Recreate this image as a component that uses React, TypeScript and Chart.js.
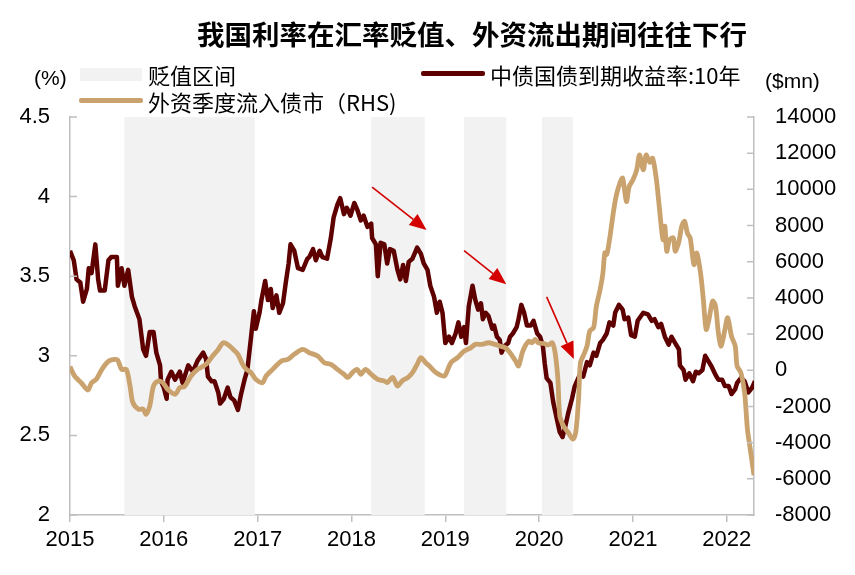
import { useEffect, useRef } from "react";
import { Chart, registerables, type Plugin } from "chart.js";

Chart.register(...registerables);

const FONT_CJK = '"Noto Sans CJK SC", "Noto Sans", sans-serif';
const FONT_NUM = '"Liberation Sans", Arial, sans-serif';

const YIELD_COLOR = "#5e0000";
const FLOW_COLOR = "#c9a26e";
const BAND_COLOR = "#f2f2f2";
const AXIS_COLOR = "#bfbfbf";
const ARROW_COLOR = "#d40000";

// axis ticks
const yearTicks = [2015, 2016, 2017, 2018, 2019, 2020, 2021, 2022];
const leftTicks = [2, 2.5, 3, 3.5, 4, 4.5];
const rightTicks = [-8000, -6000, -4000, -2000, 0, 2000, 4000, 6000, 8000, 10000, 12000, 14000];

// depreciation windows (decimal years)
const bandStarts = [2015.58, 2018.21, 2019.2, 2020.03];
const bandEnds = [2016.97, 2018.78, 2019.65, 2020.36];

// 10y CGB yield, %
const yieldDates = [
  2015.0, 2015.04, 2015.07, 2015.11, 2015.14, 2015.18, 2015.2, 2015.23, 2015.27, 2015.3,
  2015.32, 2015.37, 2015.41, 2015.44, 2015.5, 2015.51, 2015.55, 2015.58, 2015.62, 2015.66,
  2015.69, 2015.74, 2015.78, 2015.81, 2015.85, 2015.89, 2015.92, 2015.96, 2015.97, 2016.0,
  2016.03, 2016.04, 2016.08, 2016.12, 2016.17, 2016.2, 2016.26, 2016.31, 2016.36, 2016.42,
  2016.45, 2016.47, 2016.51, 2016.54, 2016.58, 2016.6, 2016.64, 2016.68, 2016.71, 2016.75,
  2016.79, 2016.82, 2016.86, 2016.89, 2016.93, 2016.96, 2016.98, 2017.02, 2017.04, 2017.08,
  2017.11, 2017.14, 2017.16, 2017.2, 2017.23, 2017.27, 2017.3, 2017.33, 2017.35, 2017.39,
  2017.43, 2017.48, 2017.53, 2017.55, 2017.59, 2017.62, 2017.66, 2017.69, 2017.74, 2017.78,
  2017.81, 2017.85, 2017.88, 2017.92, 2017.95, 2017.99, 2018.03, 2018.06, 2018.1, 2018.13,
  2018.17, 2018.21, 2018.22, 2018.26, 2018.28, 2018.31, 2018.35, 2018.38, 2018.41, 2018.45,
  2018.49, 2018.52, 2018.55, 2018.58, 2018.61, 2018.65, 2018.7, 2018.74, 2018.77, 2018.81,
  2018.84, 2018.88, 2018.91, 2018.94, 2018.97, 2019.0, 2019.04, 2019.07, 2019.11, 2019.14,
  2019.17, 2019.2, 2019.22, 2019.25, 2019.29, 2019.32, 2019.35, 2019.38, 2019.4, 2019.43,
  2019.46, 2019.5, 2019.52, 2019.55, 2019.58, 2019.6, 2019.63, 2019.67, 2019.69, 2019.72,
  2019.76, 2019.78, 2019.81, 2019.84, 2019.87, 2019.91, 2019.94, 2019.98, 2020.01, 2020.04,
  2020.06, 2020.08, 2020.12, 2020.15, 2020.19, 2020.22, 2020.25, 2020.28, 2020.31, 2020.35,
  2020.38, 2020.44, 2020.47, 2020.51, 2020.54, 2020.58, 2020.61, 2020.65, 2020.68, 2020.72,
  2020.75, 2020.79, 2020.81, 2020.85, 2020.89, 2020.91, 2020.95, 2020.98, 2021.02, 2021.05,
  2021.11, 2021.16, 2021.2, 2021.23, 2021.27, 2021.3, 2021.34, 2021.38, 2021.41, 2021.45,
  2021.49, 2021.5, 2021.54, 2021.56, 2021.6, 2021.64, 2021.67, 2021.7, 2021.74, 2021.77,
  2021.81, 2021.84, 2021.88, 2021.91, 2021.95, 2021.98, 2022.02, 2022.05, 2022.09, 2022.11,
  2022.15, 2022.19, 2022.23, 2022.27, 2022.3,
];
const yieldValues = [
  3.66, 3.6, 3.48, 3.46, 3.34, 3.42, 3.55, 3.52, 3.7, 3.48,
  3.41, 3.41, 3.6, 3.62, 3.62, 3.44, 3.55, 3.44, 3.54, 3.37,
  3.31, 3.23, 3.04, 3.0, 3.15, 3.15, 3.02, 2.94, 2.84, 2.8,
  2.73, 2.85, 2.9, 2.85, 2.9, 2.83, 2.94, 2.9, 2.97, 3.02,
  2.98, 2.87, 2.84, 2.84, 2.77, 2.7, 2.73, 2.8, 2.74, 2.72,
  2.66, 2.75, 2.85, 2.91, 3.12, 3.28, 3.17, 3.27, 3.35, 3.47,
  3.35, 3.42, 3.3, 3.38, 3.27, 3.33, 3.46, 3.58, 3.7, 3.66,
  3.55, 3.54, 3.61, 3.62, 3.67, 3.6, 3.66, 3.62, 3.61, 3.74,
  3.87, 3.95, 3.99, 3.89, 3.93, 3.88, 3.96, 3.92, 3.85, 3.88,
  3.81, 3.83, 3.74, 3.7, 3.5, 3.71, 3.7, 3.58, 3.67, 3.66,
  3.54, 3.48, 3.57, 3.47, 3.59, 3.61, 3.68, 3.64, 3.58, 3.54,
  3.44, 3.37, 3.27, 3.34, 3.27, 3.08, 3.12, 3.08, 3.14, 3.21,
  3.12, 3.18, 3.08, 3.31, 3.44, 3.35, 3.29, 3.33, 3.23, 3.27,
  3.25, 3.17, 3.19, 3.12, 3.1, 3.02, 3.06, 3.08, 3.12, 3.14,
  3.18, 3.23, 3.32, 3.27, 3.19, 3.19, 3.22, 3.14, 3.12, 3.06,
  2.95, 2.86, 2.83, 2.71, 2.6, 2.52, 2.49, 2.56, 2.64, 2.73,
  2.81, 2.89, 2.87, 2.96, 2.94, 3.02, 3.0, 3.08, 3.1, 3.14,
  3.21, 3.19, 3.27, 3.32, 3.29, 3.23, 3.24, 3.13, 3.12, 3.22,
  3.27, 3.26, 3.22, 3.23, 3.18, 3.2, 3.12, 3.07, 3.12, 3.08,
  3.04, 2.94, 2.91, 2.85, 2.89, 2.84, 2.9, 2.89, 2.91, 3.0,
  2.96, 2.93, 2.88, 2.85, 2.85, 2.81, 2.81, 2.76, 2.79, 2.83,
  2.86, 2.84, 2.77, 2.8, 2.84,
];

// quarterly foreign inflow into bonds, $mn (RHS)
const flowDates = [
  2015.0, 2015.05, 2015.12, 2015.19, 2015.23, 2015.28, 2015.34, 2015.41, 2015.48, 2015.51,
  2015.55, 2015.6, 2015.64, 2015.67, 2015.73, 2015.78, 2015.81, 2015.85, 2015.89, 2015.94,
  2015.99, 2016.04, 2016.12, 2016.17, 2016.22, 2016.29, 2016.36, 2016.45, 2016.52, 2016.58,
  2016.63, 2016.68, 2016.74, 2016.79, 2016.84, 2016.88, 2016.93, 2016.98, 2017.05, 2017.09,
  2017.16, 2017.25, 2017.32, 2017.39, 2017.48, 2017.55, 2017.64, 2017.71, 2017.78, 2017.85,
  2017.92, 2017.96, 2018.01, 2018.06, 2018.1, 2018.15, 2018.21, 2018.28, 2018.35, 2018.38,
  2018.44, 2018.49, 2018.54, 2018.6, 2018.65, 2018.7, 2018.74, 2018.79, 2018.83, 2018.88,
  2018.93, 2018.99, 2019.02, 2019.06, 2019.13, 2019.2, 2019.27, 2019.32, 2019.39, 2019.46,
  2019.53, 2019.59, 2019.64, 2019.69, 2019.75, 2019.78, 2019.82, 2019.85, 2019.89, 2019.92,
  2019.96, 2019.99, 2020.05, 2020.1, 2020.14, 2020.17, 2020.2, 2020.22, 2020.26, 2020.31,
  2020.36, 2020.39, 2020.42, 2020.44, 2020.47, 2020.51, 2020.54, 2020.58, 2020.61, 2020.65,
  2020.68, 2020.7, 2020.72, 2020.75, 2020.79, 2020.82, 2020.86, 2020.89, 2020.93, 2020.96,
  2021.0, 2021.04, 2021.07, 2021.11, 2021.14, 2021.18, 2021.21, 2021.25, 2021.28, 2021.32,
  2021.34, 2021.36, 2021.39, 2021.43, 2021.45, 2021.49, 2021.52, 2021.55, 2021.58, 2021.61,
  2021.65, 2021.68, 2021.72, 2021.75, 2021.78, 2021.81, 2021.85, 2021.88, 2021.91, 2021.94,
  2021.98, 2022.01, 2022.05, 2022.09, 2022.11, 2022.15, 2022.19, 2022.22, 2022.25, 2022.29,
];
const flowValues = [
  200, -320, -690, -1090, -690, -500, 50, 500, 600, 550,
  50, 50, -870, -1790, -2150, -2150, -2430, -1970, -870, -590,
  -690, -1050, -1330, -960, -900, -320, 50, 330, 790, 1150,
  1520, 1430, 1150, 880, 330, 50, -130, -500, -690, -320,
  50, 500, 600, 880, 1150, 970, 790, 420, 330, 50,
  -220, -400, -130, 50, -220, 50, -220, -500, -590, -680,
  -400, -870, -590, -400, -130, 330, 700, 420, 240, -40,
  -220, -320, -40, 420, 700, 1060, 1240, 1430, 1430, 1520,
  1430, 1330, 1240, 970, 500, 240, 970, 1330, 1610, 1520,
  1700, 1520, 1480, 1400, 1520, 970, -500, -2520, -3080, -3440,
  -3810, -3440, -1600, 420, 790, 1330, 2170, 2350, 3540, 4460,
  5380, 6490, 6400, 7220, 8690, 9610, 10340, 10620, 9330, 10160,
  10530, 11080, 11900, 11080, 11900, 11500, 11720, 10530, 9060, 7220,
  7960, 6580, 7220, 7310, 6580, 7130, 7960, 8230, 7590, 7310,
  5840, 6490, 5380, 3910, 2260, 2810, 3820, 3540, 2080, 1330,
  2260, 2900, 1890, 1330, 230, -130, -1240, -3260, -4360, -5800,
];

// annotation arrows on the yield axis: [year, %]
const arrowFrom = [[2018.22, 4.06], [2019.2, 3.66], [2020.08, 3.37]];
const arrowTo = [[2018.8, 3.79], [2019.65, 3.45], [2020.37, 2.98]];

const bandsPlugin: Plugin = {
  id: "bands",
  beforeDatasetsDraw(chart) {
    const { ctx, chartArea, scales } = chart;
    ctx.save();
    ctx.fillStyle = BAND_COLOR;
    bandStarts.forEach((s, i) => {
      const x1 = scales.x.getPixelForValue(s);
      const x2 = scales.x.getPixelForValue(bandEnds[i]);
      ctx.fillRect(x1, chartArea.top, x2 - x1, chartArea.bottom - chartArea.top);
    });
    ctx.restore();
  },
};

const innerTicksPlugin: Plugin = {
  id: "innerTicks",
  afterDatasetsDraw(chart) {
    const { ctx, chartArea, scales } = chart;
    ctx.save();
    ctx.strokeStyle = AXIS_COLOR;
    ctx.lineWidth = 1.5;
    ctx.beginPath();
    leftTicks.forEach((v) => {
      const y = scales.y.getPixelForValue(v);
      ctx.moveTo(chartArea.left, y);
      ctx.lineTo(chartArea.left + 7, y);
    });
    rightTicks.forEach((v) => {
      const y = scales.y2.getPixelForValue(v);
      ctx.moveTo(chartArea.right - 7, y);
      ctx.lineTo(chartArea.right, y);
    });
    ctx.stroke();
    ctx.restore();
  },
};

const arrowsPlugin: Plugin = {
  id: "arrows",
  afterDatasetsDraw(chart) {
    const { ctx, scales } = chart;
    ctx.save();
    ctx.strokeStyle = ARROW_COLOR;
    ctx.fillStyle = ARROW_COLOR;
    ctx.lineWidth = 1.6;
    arrowFrom.forEach((a, i) => {
      const b = arrowTo[i];
      const x1 = scales.x.getPixelForValue(a[0]);
      const y1 = scales.y.getPixelForValue(a[1]);
      const x2 = scales.x.getPixelForValue(b[0]);
      const y2 = scales.y.getPixelForValue(b[1]);
      const ang = Math.atan2(y2 - y1, x2 - x1);
      const len = 17;
      const half = 7;
      const bx = x2 - len * Math.cos(ang);
      const by = y2 - len * Math.sin(ang);
      ctx.beginPath();
      ctx.moveTo(x1, y1);
      ctx.lineTo(bx, by);
      ctx.stroke();
      ctx.beginPath();
      ctx.moveTo(x2, y2);
      ctx.lineTo(bx + half * Math.sin(ang), by - half * Math.cos(ang));
      ctx.lineTo(bx - half * Math.sin(ang), by + half * Math.cos(ang));
      ctx.closePath();
      ctx.fill();
    });
    ctx.restore();
  },
};

const text = (left: number, top: number, size: number, family: string, bold = false): React.CSSProperties => ({
  position: "absolute",
  left,
  top,
  fontSize: size,
  fontFamily: family,
  fontWeight: bold ? 700 : 400,
  lineHeight: 1,
  whiteSpace: "nowrap",
  color: "#000",
});

export default function App() {
  const ref = useRef<HTMLCanvasElement>(null);

  useEffect(() => {
    if (!ref.current) return;
    const chart = new Chart(ref.current, {
      type: "line",
      data: {
        datasets: [
          {
            label: "外资季度流入债市（RHS)",
            data: flowDates.map((d, i) => ({ x: d, y: flowValues[i] })),
            yAxisID: "y2",
            borderColor: FLOW_COLOR,
            borderWidth: 4.8,
            pointRadius: 0,
            tension: 0.3,
            order: 0,
          },
          {
            label: "中债国债到期收益率:10年",
            data: yieldDates.map((d, i) => ({ x: d, y: yieldValues[i] })),
            yAxisID: "y",
            borderColor: YIELD_COLOR,
            borderWidth: 4.5,
            pointRadius: 0,
            tension: 0,
            borderJoinStyle: "round",
            order: 1,
          },
        ],
      },
      options: {
        animation: false,
        responsive: true,
        maintainAspectRatio: false,
        layout: { padding: { top: 117, left: 0, right: 0, bottom: 0 } },
        plugins: { legend: { display: false }, tooltip: { enabled: false } },
        scales: {
          x: {
            type: "linear",
            min: 2015,
            max: 2022.29,
            afterBuildTicks: (s) => { s.ticks = yearTicks.map((v) => ({ value: v })); },
            afterFit: (s) => { s.height = 60; },
            ticks: {
              color: "#000",
              font: { family: FONT_NUM, size: 22 },
              padding: 5,
              maxRotation: 0,
              autoSkip: false,
              callback: (v) => String(v),
            },
            grid: { drawOnChartArea: false, drawTicks: true, tickLength: 7, color: AXIS_COLOR, lineWidth: 1.5 },
            border: { display: true, color: AXIS_COLOR, width: 1.5 },
          },
          y: {
            position: "left",
            min: 2,
            max: 4.5,
            afterBuildTicks: (s) => { s.ticks = leftTicks.map((v) => ({ value: v })); },
            afterFit: (s) => { s.width = 70; },
            ticks: {
              color: "#000",
              font: { family: FONT_NUM, size: 22 },
              padding: 20,
              callback: (v) => String(v),
            },
            grid: { drawOnChartArea: false, drawTicks: false },
            border: { display: true, color: AXIS_COLOR, width: 1.5 },
          },
          y2: {
            position: "right",
            min: -8000,
            max: 14000,
            afterBuildTicks: (s) => { s.ticks = rightTicks.map((v) => ({ value: v })); },
            afterFit: (s) => { s.width = 101; },
            ticks: {
              color: "#000",
              font: { family: FONT_NUM, size: 22 },
              padding: 21,
              callback: (v) => String(v),
            },
            grid: { drawOnChartArea: false, drawTicks: false },
            border: { display: true, color: AXIS_COLOR, width: 1.5 },
          },
        },
      },
      plugins: [bandsPlugin, innerTicksPlugin, arrowsPlugin],
    });
    return () => { chart.destroy(); };
  }, []);

  return (
    <div style={{ position: "relative", width: 855, height: 575, background: "#fff" }}>
      <style>{"body{margin:0}"}</style>
      <div style={{ position: "absolute", left: 0, top: 0, width: 855, height: 575 }}>
        <canvas ref={ref} />
      </div>
      <div style={text(197, 20, 27.5, FONT_CJK, true)}>我国利率在汇率贬值、外资流出期间往往下行</div>
      <div style={text(34, 67, 21, FONT_NUM)}>(%)</div>
      <div style={text(765, 70, 21, FONT_NUM)}>($mn)</div>
      <div style={{ position: "absolute", left: 80, top: 68, width: 62, height: 13, background: BAND_COLOR }} />
      <div style={text(148, 63, 22, FONT_CJK)}>贬值区间</div>
      <div style={{ position: "absolute", left: 421, top: 71, width: 64, height: 4.5, background: YIELD_COLOR, borderRadius: 2 }} />
      <div style={text(490, 63, 22, FONT_CJK)}>中债国债到期收益率:10年</div>
      <div style={{ position: "absolute", left: 79, top: 98, width: 64, height: 4.8, background: FLOW_COLOR, borderRadius: 2 }} />
      <div style={text(148, 90, 22, FONT_CJK)}>外资季度流入债市（RHS)</div>
    </div>
  );
}
